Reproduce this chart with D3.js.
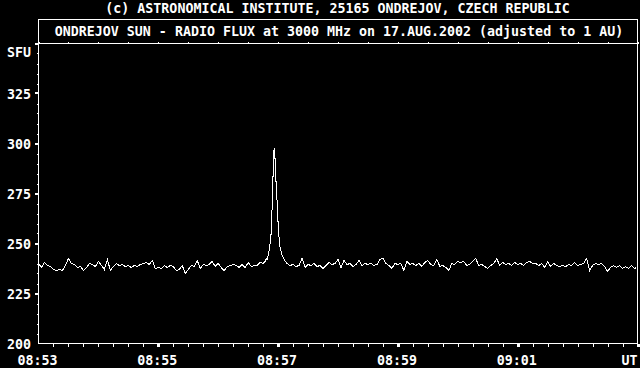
<!DOCTYPE html>
<html>
<head>
<meta charset="utf-8">
<script src="https://cdn.jsdelivr.net/npm/d3@7"></script>
<style>
  html, body { margin: 0; padding: 0; background: #000; }
  svg { display: block; }
  text { font-family: "DejaVu Sans Mono", "Liberation Mono", monospace; font-weight: bold; fill: #fff; }
</style>
</head>
<body>
<div id="chart"></div>
<script>
// ─── DATA ─────────────────────────────────────────────────────────────────────
// seconds after 08:53:00 UT and flux in SFU
const seconds = [
  0, 3, 6, 9, 12, 15, 18, 21, 24, 27, 30, 33, 36, 39, 42, 45, 48, 51, 54, 57,
  60, 63, 66, 69, 72, 75, 78, 81, 84, 87, 90, 93, 96, 99, 102, 105, 108, 111, 114, 117,
  120, 123, 126, 129, 132, 135, 138, 141, 144, 147, 150, 153, 156, 159, 162, 165, 168, 171, 174, 177,
  180, 183, 186, 189, 192, 195, 198, 201, 204, 207, 210, 213, 216, 219, 222, 225,
  227, 228, 229, 230, 231, 232, 233, 234, 235, 236, 237, 238, 239, 240, 241, 242, 243, 244, 246,
  249, 252, 255, 258, 261, 264, 267, 270, 273, 276, 279, 282, 285, 288, 291, 294, 297,
  300, 303, 306, 309, 312, 315, 318, 321, 324, 327, 330, 333, 336, 339, 342, 345, 348, 351, 354, 357,
  360, 363, 366, 369, 372, 375, 378, 381, 384, 387, 390, 393, 396, 399, 402, 405, 408, 411, 414, 417,
  420, 423, 426, 429, 432, 435, 438, 441, 444, 447, 450, 453, 456, 459, 462, 465, 468, 471, 474, 477,
  480, 483, 486, 489, 492, 495, 498, 501, 504, 507, 510, 513, 516, 519, 522, 525, 528, 531, 534, 537,
  540, 543, 546, 549, 552, 555, 558, 561, 564, 567, 570, 573, 576, 579, 582, 585, 588, 591, 594, 597, 599
];
const flux = [
  240, 238, 240.5, 239, 238.5, 237, 236.5, 237, 236.5, 239, 242.5, 240, 239.5, 238, 238.5, 236.5, 238, 240, 239.5, 238.5,
  241, 239, 237, 242, 236.5, 238.5, 240, 239, 239.5, 238.5, 239, 238, 239, 238.5, 239.5, 240, 240.5, 239.5, 241.5, 237.5,
  238, 237.5, 239, 238, 239, 238.5, 236.5, 237, 239, 235, 237, 239, 238.5, 241.5, 237.5, 239.5, 239, 239.5, 241, 238.5,
  240, 238, 236.5, 238.5, 239, 239.5, 239, 238, 239.5, 238, 240.5, 238.5, 239, 239, 240.5, 240,
  241, 242.5, 242, 244, 246.5, 250, 255, 268, 285, 297.5, 292, 280, 271, 260, 252.5, 248, 246, 244, 242,
  240, 239, 239.5, 238.5, 239, 242.5, 238, 239.5, 239, 240, 238.5, 239, 237.5, 239, 240.5, 239.5, 240,
  242, 238, 241.5, 239.5, 240, 238.5, 239.5, 241.5, 239, 240, 239.5, 240, 239, 239.5, 242, 242.5, 240, 239, 237.5, 240,
  239.5, 240, 236.5, 241, 239.5, 240, 239, 240, 238.5, 240.5, 241.5, 239.5, 239, 242, 238.5, 239, 238, 236.5, 240, 239.5,
  241, 240.5, 241, 239, 239.5, 241, 242.5, 239, 239.5, 238.5, 237.5, 239, 240, 242.5, 239, 240.5, 239.5, 240, 239, 240.5,
  239.5, 240, 239, 240.5, 241, 240, 240, 239, 240, 238, 241, 238.5, 240, 239, 238.5, 239, 238.5, 239.5, 239, 240.5,
  239, 239.5, 240, 242.5, 236.5, 239, 240, 239.5, 240, 238.5, 236, 238, 239, 238, 239, 237.5, 238.5, 237.5, 239, 237.5, 238
];

// axis labels
const yLabelValues = [200, 225, 250, 275, 300, 325];
const yUnitLabel = "SFU";
const xLabelTimes = ["08:53", "08:55", "08:57", "08:59", "09:01"];
const xUnitLabel = "UT";
const creditText = "(c) ASTRONOMICAL INSTITUTE, 25165 ONDREJOV, CZECH REPUBLIC";
const titleText = "ONDREJOV SUN - RADIO FLUX at 3000 MHz on 17.AUG.2002 (adjusted to 1 AU)";

// ─── LAYOUT ───────────────────────────────────────────────────────────────────
const W = 640, H = 368;
const plotLeft = 38.5, plotRight = 637.5, plotTop = 43.5, plotBottom = 343.5, boxTop = 19.5;
const t0 = Date.UTC(2002, 7, 17, 8, 53, 0);
const t1 = Date.UTC(2002, 7, 17, 9, 3, 0);

const x = d3.scaleUtc().domain([new Date(t0), new Date(t1)]).range([plotLeft, plotRight]);
const y = d3.scaleLinear().domain([200, 350]).range([plotBottom, plotTop]);

const svg = d3.select("#chart").append("svg").attr("width", W).attr("height", H);
svg.append("rect").attr("width", W).attr("height", H).attr("fill", "#000");

// frame (title box + plot box)
const frame = svg.append("g")
  .attr("stroke", "#fff").attr("fill", "none").attr("shape-rendering", "crispEdges");
frame.append("rect").attr("x", plotLeft).attr("y", boxTop)
  .attr("width", plotRight - plotLeft).attr("height", plotBottom - boxTop);
frame.append("line").attr("x1", plotLeft).attr("x2", plotRight).attr("y1", plotTop).attr("y2", plotTop);

// ─── Y AXIS ───────────────────────────────────────────────────────────────────
const yTicks = d3.range(200, 351, 5);
const yAxis = svg.append("g").attr("shape-rendering", "crispEdges").attr("fill", "#fff");
yAxis.selectAll(".yminor").data(yTicks.filter(v => v % 25 !== 0)).join("rect")
  .attr("x", plotLeft - 1.5).attr("y", d => Math.round(y(d)) - 0.5).attr("width", 1).attr("height", 1);
yAxis.selectAll(".ymajor").data(yTicks.filter(v => v % 25 === 0 && v > 200)).join("rect")
  .attr("x", plotLeft - 3.5).attr("y", d => Math.round(y(d)) - 1).attr("width", 3).attr("height", 2);

svg.selectAll(".ylab").data(yLabelValues).join("text")
  .attr("x", 31).attr("y", d => y(d) + 5)
  .attr("text-anchor", "end").style("font-size", "13.3px")
  .text(d => d);
svg.append("text")
  .attr("x", 31).attr("y", 57)
  .attr("text-anchor", "end").style("font-size", "13.3px")
  .text(yUnitLabel);

// ─── X AXIS ───────────────────────────────────────────────────────────────────
const xTicks = d3.utcSecond.every(15).range(new Date(t0), new Date(t1 + 1));
const isMajor = d => d.getUTCSeconds() === 0 && (d.getUTCMinutes() + 1) % 2 === 0;
const xAxis = svg.append("g").attr("shape-rendering", "crispEdges");
xAxis.selectAll(".xminor").data(xTicks.filter(d => !isMajor(d)))
  .join("line")
  .attr("x1", d => Math.round(x(d)) + 0.5).attr("x2", d => Math.round(x(d)) + 0.5)
  .attr("y1", plotBottom).attr("y2", plotBottom + 3)
  .attr("stroke", "#fff");
// ticks on the top edge of the plot, pointing into the title box
xAxis.selectAll(".xtop").data(xTicks.filter(d => d.getUTCSeconds() % 30 === 0))
  .join("line")
  .attr("x1", d => Math.round(x(d)) + 0.5).attr("x2", d => Math.round(x(d)) + 0.5)
  .attr("y1", plotTop).attr("y2", plotTop - 2)
  .attr("stroke", "#fff");
xAxis.selectAll(".xmajor").data(xTicks.filter(d => isMajor(d) && +d > t0)).join("rect")
  .attr("x", d => Math.round(x(d)) - 1).attr("y", plotBottom).attr("width", 3).attr("height", 3)
  .attr("fill", "#fff");

svg.selectAll(".xlab").data(xLabelTimes).join("text")
  .attr("x", d => {
    const [hh, mm] = d.split(":").map(Number);
    return x(new Date(Date.UTC(2002, 7, 17, hh, mm, 0))) - 1;
  })
  .attr("y", 365)
  .attr("text-anchor", "middle").style("font-size", "13.3px")
  .text(d => d);
svg.append("text")
  .attr("x", plotRight).attr("y", 365)
  .attr("text-anchor", "end").style("font-size", "13.3px")
  .text(xUnitLabel);

// ─── TITLES ───────────────────────────────────────────────────────────────────
svg.append("text")
  .attr("x", 337.5).attr("y", 13)
  .attr("text-anchor", "middle").style("font-size", "13.3px")
  .text(creditText);
svg.append("text")
  .attr("x", 339).attr("y", 36)
  .attr("text-anchor", "middle").style("font-size", "13.3px")
  .text(titleText);

// ─── FLUX LINE ────────────────────────────────────────────────────────────────
const series = seconds.map((s, i) => ({ t: new Date(t0 + s * 1000), v: flux[i] }));
const line = d3.line().x(d => x(d.t)).y(d => y(d.v));
svg.append("path")
  .datum(series)
  .attr("d", line)
  .attr("fill", "none")
  .attr("stroke", "#fff")
  .attr("stroke-width", 1)
  .attr("shape-rendering", "crispEdges");
</script>
</body>
</html>
